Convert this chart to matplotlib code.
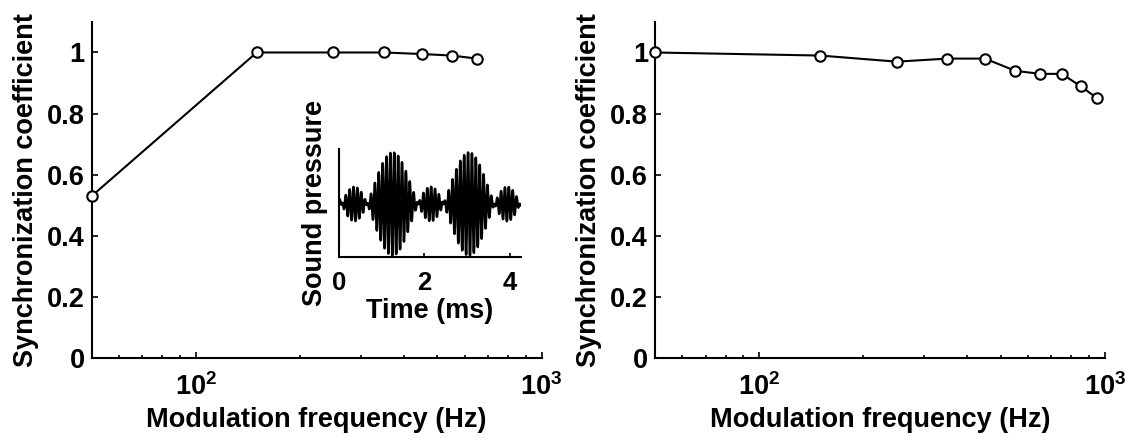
import numpy as np
import matplotlib.pyplot as plt

plt.rcParams['font.family'] = ['Liberation Sans', 'DejaVu Sans']
plt.rcParams['font.weight'] = 'bold'
plt.rcParams['mathtext.fontset'] = 'custom'
plt.rcParams['mathtext.rm'] = 'Liberation Sans:bold'
plt.rcParams['mathtext.bf'] = 'Liberation Sans:bold'

# Synchronization vs. modulation frequency, two conditions
freq_a = [50, 150, 250, 350, 450, 550, 650]
sync_a = [0.53, 1.0, 1.0, 1.0, 0.995, 0.99, 0.98]

freq_b = [50, 150, 250, 350, 450, 550, 650, 750, 850, 950]
sync_b = [1.0, 0.99, 0.97, 0.98, 0.98, 0.94, 0.93, 0.93, 0.89, 0.85]

y_ticks = [0, 0.2, 0.4, 0.6, 0.8, 1]
y_tick_labels = ['0', '0.2', '0.4', '0.6', '0.8', '1']
x_ticks = [100, 1000]
x_tick_labels = [r'$10^{2}$', r'$10^{3}$']

# Stimulus shown in the inset: overmodulated AM tone
carrier_hz = 11000.0
mod_hz = 559.0
mod_depth = 2.0
peak_time_ms = 1.256
duration_ms = 4.25

label_size = 19.5
tick_size = 19.5
inset_size = 18.5

fig = plt.figure(figsize=(11.26, 4.37), dpi=100)
ax1 = fig.add_axes([0.0814, 0.1808, 0.3996, 0.769])
ax2 = fig.add_axes([0.5817, 0.1808, 0.3996, 0.769])

for ax, f, s in [(ax1, freq_a, sync_a), (ax2, freq_b, sync_b)]:
    ax.plot(f, s, color='black', linewidth=1.5, marker='o', markersize=7.5,
            markerfacecolor='white', markeredgecolor='black', markeredgewidth=1.5,
            clip_on=False, zorder=3)
    ax.set_xscale('log')
    ax.set_xlim(50, 1000)
    ax.set_ylim(0, 1.1)
    ax.set_xticks(x_ticks)
    ax.set_xticklabels(x_tick_labels)
    ax.set_yticks(y_ticks)
    ax.set_yticklabels(y_tick_labels)
    ax.spines['top'].set_visible(False)
    ax.spines['right'].set_visible(False)
    ax.spines['left'].set_linewidth(1.5)
    ax.spines['bottom'].set_linewidth(1.5)
    ax.tick_params(which='major', direction='in', length=4, width=1.2,
                   labelsize=tick_size)
    ax.tick_params(axis='x', which='major', pad=11)
    ax.tick_params(axis='y', which='major', pad=5)
    ax.tick_params(which='minor', direction='in', length=2.5, width=1.2)
    ax.set_xlabel('Modulation frequency (Hz)', fontsize=label_size, fontweight='bold', labelpad=4)
    ax.set_ylabel('Synchronization coefficient', fontsize=label_size, fontweight='bold', labelpad=6)

# inset with the sound waveform
inset = fig.add_axes([0.301, 0.4112, 0.1616, 0.248])
t = np.linspace(0, duration_ms, 4000)
envelope = 1 + mod_depth * np.cos(2 * np.pi * mod_hz * (t - peak_time_ms) / 1000)
pressure = envelope * np.sin(2 * np.pi * carrier_hz * t / 1000)
inset.plot(t, pressure, color='black', linewidth=1.8)
inset.set_xlim(0, 4.26)
inset.set_ylim(-3.1, 3.2)
inset.set_xticks([0, 2, 4])
inset.set_xticklabels(['0', '2', '4'])
inset.set_yticks([])
inset.spines['top'].set_visible(False)
inset.spines['right'].set_visible(False)
inset.spines['left'].set_linewidth(1.5)
inset.spines['bottom'].set_linewidth(1.5)
inset.tick_params(direction='in', length=3, width=1.2, labelsize=inset_size, pad=10)
inset.set_xlabel('Time (ms)', fontsize=label_size, fontweight='bold', labelpad=2)
inset.set_ylabel('Sound pressure', fontsize=label_size, fontweight='bold', labelpad=8)

fig.savefig('out.png', dpi=100)
